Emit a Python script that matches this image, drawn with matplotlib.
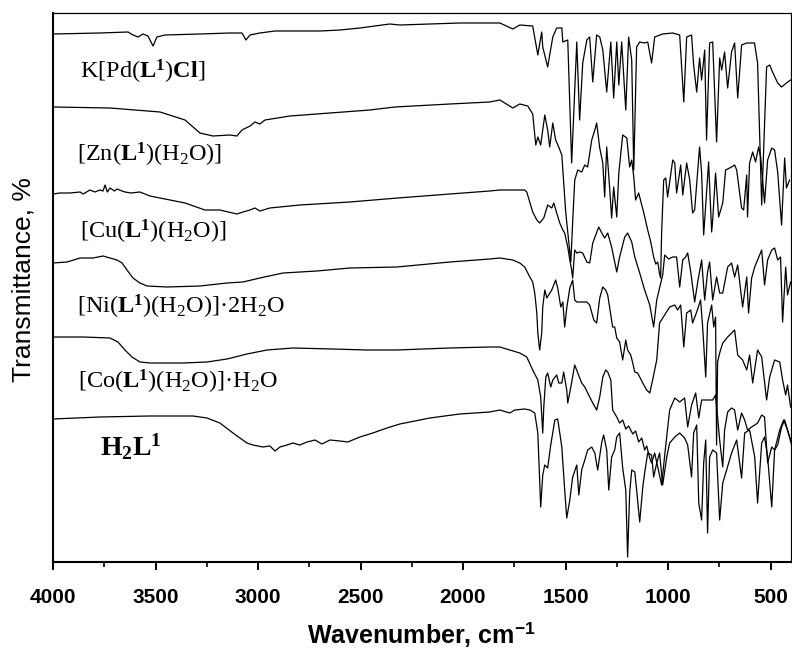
import numpy as np
import matplotlib
matplotlib.use("Agg")
import matplotlib.pyplot as plt
from matplotlib.ticker import MultipleLocator

# (wavenumber cm-1, transmittance in stacked plot units)
pd_points = [
    (4000, 528), (3771, 529), (3634, 530), (3610, 527), (3585, 525), (3561, 528), (3537, 526),
    (3512, 516), (3493, 525), (3454, 527), (3283, 528), (3137, 529), (3078, 529), (3059, 522),
    (3039, 527), (2991, 529), (2917, 531), (2796, 531), (2698, 531), (2600, 532), (2503, 534),
    (2357, 538), (2308, 537), (2162, 538), (2016, 539), (1870, 539), (1820, 539), (1757, 533),
    (1723, 537), (1660, 536), (1635, 507), (1616, 530), (1611, 515), (1587, 495), (1562, 525),
    (1543, 534), (1518, 534), (1513, 520), (1489, 522), (1470, 399), (1445, 520), (1431, 442),
    (1416, 499), (1396, 522), (1382, 525), (1367, 480), (1348, 527), (1333, 525), (1318, 512),
    (1299, 470), (1279, 520), (1265, 464), (1250, 520), (1240, 477), (1226, 520), (1206, 452),
    (1192, 525), (1177, 502), (1167, 392), (1153, 515), (1138, 520), (1114, 519), (1099, 520),
    (1080, 499), (1065, 525), (1026, 528), (977, 529), (943, 527), (923, 460), (909, 525),
    (885, 527), (875, 497), (860, 470), (846, 504), (836, 482), (821, 512), (812, 422), (797, 519),
    (782, 520), (763, 420), (748, 504), (738, 492), (724, 510), (709, 474), (690, 510), (675, 519),
    (660, 464), (641, 517), (616, 519), (578, 519), (563, 499), (543, 357), (519, 495), (504, 497),
    (490, 490), (465, 479), (446, 475), (422, 479), (402, 482),
]

zn_points = [
    (4000, 455), (3722, 454), (3478, 450), (3356, 442), (3283, 429), (3220, 426), (3137, 427),
    (3103, 426), (3078, 432), (3039, 436), (3015, 440), (2991, 438), (2966, 442), (2844, 446),
    (2649, 449), (2454, 452), (2332, 455), (2064, 458), (1870, 460), (1820, 462), (1757, 454),
    (1723, 458), (1684, 456), (1660, 448), (1645, 417), (1635, 425), (1621, 417), (1601, 447),
    (1587, 432), (1577, 415), (1562, 439), (1548, 422), (1533, 415), (1518, 407), (1513, 392),
    (1499, 350), (1484, 320), (1474, 300), (1465, 340), (1455, 382), (1440, 392), (1421, 390),
    (1406, 397), (1392, 395), (1372, 422), (1357, 432), (1348, 439), (1333, 414), (1318, 399),
    (1309, 365), (1299, 415), (1284, 372), (1275, 344), (1265, 375), (1250, 345), (1240, 389),
    (1221, 427), (1201, 424), (1187, 395), (1177, 402), (1167, 385), (1158, 362), (1143, 369),
    (1118, 349), (1099, 332), (1084, 320), (1070, 305), (1060, 298), (1050, 300), (1041, 288),
    (1036, 284), (1031, 330), (1021, 382), (1011, 384), (1002, 365), (977, 402), (967, 399),
    (958, 369), (938, 397), (928, 367), (909, 399), (894, 382), (880, 349), (870, 352), (846, 415),
    (836, 389), (826, 327), (812, 369), (802, 400), (787, 330), (782, 342), (768, 389), (753, 345),
    (733, 359), (719, 392), (699, 394), (675, 397), (665, 392), (641, 354), (631, 352), (616, 387),
    (612, 345), (602, 399), (587, 410), (573, 400), (558, 415), (548, 405), (529, 359), (514, 402),
    (494, 414), (480, 412), (465, 390), (446, 337), (431, 404), (422, 374), (407, 382),
]

cu_points = [
    (4000, 368), (3966, 369), (3917, 369), (3868, 370), (3853, 368), (3820, 372), (3795, 370),
    (3771, 372), (3756, 371), (3746, 377), (3735, 370), (3722, 374), (3700, 371), (3688, 373),
    (3663, 371), (3649, 370), (3620, 369), (3576, 370), (3527, 366), (3478, 364), (3356, 359),
    (3259, 352), (3186, 352), (3103, 348), (3073, 350), (3039, 352), (3015, 354), (2991, 351),
    (2942, 354), (2796, 357), (2552, 360), (2318, 364), (2064, 368), (1870, 371), (1820, 372),
    (1723, 372), (1699, 372), (1689, 370), (1660, 350), (1640, 342), (1626, 339), (1606, 344),
    (1587, 357), (1567, 354), (1557, 359), (1543, 349), (1528, 339), (1513, 332), (1504, 329),
    (1489, 315), (1479, 302), (1470, 292), (1465, 284), (1455, 312), (1445, 309), (1431, 310),
    (1416, 309), (1396, 300), (1382, 299), (1367, 319), (1338, 335), (1318, 327), (1309, 324),
    (1294, 329), (1275, 315), (1250, 290), (1236, 305), (1211, 325), (1197, 329), (1177, 320),
    (1162, 305), (1138, 289), (1114, 272), (1089, 257), (1070, 235), (1055, 262), (1026, 287),
    (1016, 307), (997, 303), (977, 305), (958, 305), (943, 275), (928, 302), (914, 305),
    (904, 309), (889, 290), (870, 260), (855, 280), (836, 302), (821, 262), (807, 290), (797, 300),
    (782, 262), (763, 285), (748, 269), (733, 269), (709, 295), (690, 299), (675, 285), (660, 297),
    (636, 255), (616, 285), (607, 249), (592, 284), (577, 295), (563, 302), (543, 312), (529, 277),
    (514, 302), (494, 312), (480, 314), (465, 302), (451, 305), (441, 240), (426, 295), (417, 267),
    (402, 280),
]

ni_points = [
    (4000, 299), (3931, 300), (3868, 304), (3805, 304), (3756, 306), (3722, 304), (3688, 302),
    (3663, 299), (3639, 292), (3610, 284), (3576, 279), (3541, 276), (3444, 275), (3283, 276),
    (3151, 279), (3073, 280), (2991, 284), (2878, 289), (2713, 291), (2552, 294), (2323, 295),
    (2064, 300), (1870, 303), (1820, 304), (1757, 302), (1723, 299), (1699, 295), (1674, 285),
    (1660, 280), (1650, 269), (1640, 249), (1635, 229), (1626, 212), (1616, 229), (1611, 255),
    (1601, 272), (1591, 264), (1567, 272), (1548, 282), (1538, 274), (1523, 255), (1513, 260),
    (1504, 235), (1494, 254), (1479, 274), (1465, 282), (1455, 262), (1445, 260), (1396, 260),
    (1382, 257), (1362, 242), (1348, 239), (1333, 264), (1318, 275), (1304, 272), (1294, 267),
    (1270, 235), (1260, 235), (1250, 224), (1236, 220), (1221, 202), (1206, 222), (1197, 212),
    (1182, 207), (1172, 199), (1162, 190), (1148, 189), (1123, 179), (1104, 172), (1089, 169),
    (1075, 182), (1055, 202), (1041, 239), (992, 255), (967, 257), (953, 252), (938, 257),
    (923, 215), (909, 249), (889, 252), (880, 239), (860, 250), (841, 262), (831, 235), (816, 185),
    (807, 239), (787, 257), (777, 235), (768, 245), (763, 117), (758, 200), (748, 209), (733, 219),
    (709, 225), (675, 232), (660, 207), (636, 202), (616, 192), (602, 207), (587, 179), (563, 212),
    (543, 205), (519, 162), (504, 185), (480, 202), (455, 200), (441, 182), (426, 167), (417, 177),
    (402, 155),
]

co_points = [
    (4000, 225), (3853, 225), (3722, 224), (3683, 220), (3649, 212), (3615, 205), (3576, 200),
    (3527, 199), (3366, 199), (3249, 200), (3151, 203), (3054, 208), (2956, 212), (2830, 214),
    (2635, 213), (2469, 212), (2323, 212), (2064, 214), (1870, 215), (1820, 215), (1772, 212),
    (1723, 209), (1689, 205), (1660, 192), (1635, 182), (1621, 165), (1611, 129), (1606, 155),
    (1596, 185), (1587, 189), (1572, 175), (1562, 182), (1543, 187), (1533, 179), (1518, 179),
    (1509, 190), (1494, 172), (1489, 159), (1474, 175), (1455, 197), (1440, 189), (1421, 179),
    (1406, 175), (1382, 165), (1367, 159), (1348, 152), (1333, 165), (1318, 185), (1304, 192),
    (1294, 190), (1279, 182), (1270, 152), (1250, 145), (1236, 139), (1221, 142), (1206, 133),
    (1192, 136), (1172, 128), (1158, 131), (1143, 120), (1128, 124), (1114, 112), (1104, 116),
    (1089, 104), (1080, 99), (1065, 109), (1050, 95), (1031, 77), (1016, 107), (992, 152),
    (967, 164), (943, 160), (919, 164), (904, 135), (885, 157), (865, 169), (850, 144), (836, 162),
    (821, 162), (782, 162), (768, 167), (758, 145), (748, 122), (733, 95), (724, 132), (709, 150),
    (690, 154), (675, 152), (660, 132), (641, 149), (626, 142), (612, 132), (592, 135), (577, 137),
    (563, 139), (543, 147), (529, 145), (514, 99), (494, 115), (480, 112), (465, 117), (446, 135),
    (431, 142), (417, 132), (397, 119),
]

h2l_points = [
    (4000, 143), (3771, 145), (3527, 146), (3317, 146), (3249, 144), (3186, 139), (3122, 129),
    (3054, 119), (3025, 117), (2976, 115), (2942, 116), (2917, 111), (2893, 115), (2859, 117),
    (2830, 119), (2796, 117), (2761, 120), (2722, 122), (2688, 118), (2649, 122), (2600, 121),
    (2562, 120), (2503, 125), (2440, 129), (2371, 134), (2308, 138), (2162, 144), (2016, 148),
    (1870, 150), (1820, 152), (1772, 149), (1747, 152), (1699, 153), (1674, 152), (1650, 149),
    (1635, 129), (1621, 55), (1611, 87), (1601, 97), (1587, 94), (1572, 117), (1552, 142),
    (1538, 143), (1518, 115), (1504, 72), (1494, 44), (1479, 62), (1465, 85), (1445, 97),
    (1435, 67), (1421, 92), (1406, 102), (1392, 112), (1372, 115), (1357, 109), (1343, 92),
    (1323, 120), (1314, 127), (1299, 112), (1289, 72), (1275, 105), (1260, 112), (1250, 125),
    (1236, 129), (1221, 94), (1206, 72), (1197, 5), (1187, 69), (1177, 92), (1162, 90),
    (1153, 72), (1138, 40), (1123, 75), (1114, 89), (1099, 109), (1080, 107), (1070, 85),
    (1055, 99), (1041, 109), (1026, 77), (1006, 105), (992, 119), (967, 125), (943, 129),
    (919, 124), (904, 117), (885, 85), (875, 129), (860, 137), (850, 59), (836, 42), (826, 99),
    (816, 122), (807, 29), (797, 105), (782, 112), (763, 109), (748, 42), (733, 79), (714, 92),
    (690, 109), (665, 122), (641, 84), (626, 129), (602, 132), (577, 105), (563, 59), (543, 119),
    (529, 125), (514, 105), (494, 55), (480, 112), (455, 132), (436, 142), (417, 132), (397, 117),
]

traces = [pd_points, zn_points, cu_points, ni_points, co_points, h2l_points]

labels = [
    r"K[Pd($\mathbf{L^1}$)$\mathbf{Cl}$]",
    r"[Zn($\mathbf{L^1}$)(H$_2$O)]",
    r"[Cu($\mathbf{L^1}$)(H$_2$O)]",
    r"[Ni($\mathbf{L^1}$)(H$_2$O)]·2H$_2$O",
    r"[Co($\mathbf{L^1}$)(H$_2$O)]·H$_2$O",
    r"$\mathbf{H_2L^1}$",
]
# label anchor: (wavenumber of left edge, transmittance of centre)
label_pos = [(3868, 490), (3883, 407), (3868, 330), (3883, 255), (3878, 180), (3771, 115)]
label_size = [17.5, 17.5, 17.5, 17.5, 17.5, 20]

tick_values = [4000, 3500, 3000, 2500, 2000, 1500, 1000, 500]

plt.rcParams["mathtext.fontset"] = "custom"
plt.rcParams["mathtext.rm"] = "Liberation Serif"
plt.rcParams["mathtext.it"] = "Liberation Serif:italic"
plt.rcParams["mathtext.bf"] = "Liberation Serif:bold"
plt.rcParams["mathtext.sf"] = "Liberation Sans:bold"

fig = plt.figure(figsize=(7.92, 6.48), dpi=100)
ax = fig.add_axes([53 / 792, 86 / 648, 738 / 792, 549 / 648])

for pts in traces:
    arr = np.array(pts, dtype=float)
    ax.plot(arr[:, 0], arr[:, 1], color="black", lw=0.9)

for text, (x, y), fs in zip(labels, label_pos, label_size):
    ax.text(x, y, text, ha="left", va="center", fontsize=fs,
            family="Liberation Serif", color="black")

ax.set_xlim(4000, 400)
ax.set_ylim(0, 549)
ax.set_xticks(tick_values)
ax.xaxis.set_minor_locator(MultipleLocator(250))
ax.set_yticks([])
ax.tick_params(axis="x", which="major", direction="out", length=6, width=1.4, pad=13)
ax.tick_params(axis="x", which="minor", direction="out", length=3.6, width=1.2)
for lab in ax.get_xticklabels():
    lab.set_fontfamily("Liberation Sans")
    lab.set_fontweight("bold")
    lab.set_fontsize(15)

for side in ["left", "bottom"]:
    ax.spines[side].set_linewidth(1.5)
for side in ["top", "right"]:
    ax.spines[side].set_linewidth(0.9)

fig.text(421 / 792, 1 - 643 / 648, r"Wavenumber, cm$^{\mathsf{-1}}$", ha="center",
         va="baseline", fontsize=18, fontweight="bold", family="Liberation Sans")
fig.text(24 / 792, 1 - 280 / 648, "Transmittance, %", ha="center", va="center",
         rotation=90, fontsize=19, family="Liberation Sans")

fig.savefig("out.png", dpi=100)
